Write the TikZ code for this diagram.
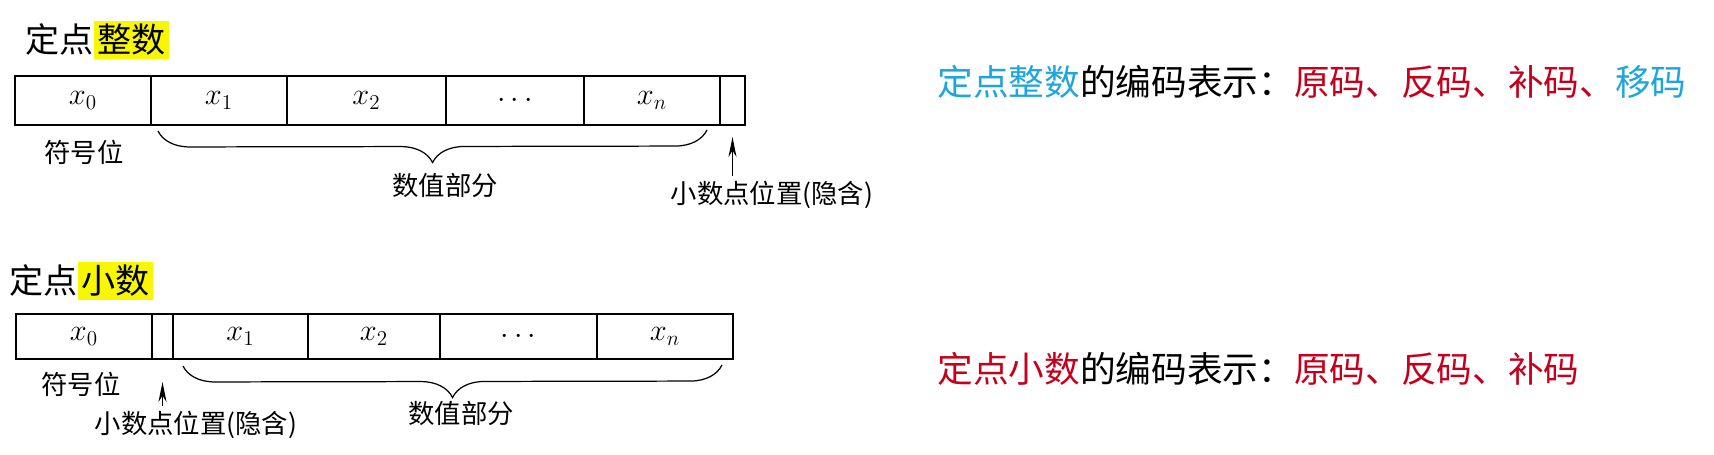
\documentclass[tikz,border=0pt]{standalone}
\usepackage{fontspec}
\usepackage{xcolor}
\usepackage{tikz}
\usetikzlibrary{arrows.meta,calc,positioning,decorations.pathreplacing}
\newfontfamily\cjk{Noto Sans CJK SC}
\definecolor{vurguSari}{HTML}{F9F700}
\definecolor{kodKirmizi}{HTML}{C4001C}
\definecolor{kodMavi}{HTML}{1FA5DD}
\newcommand{\vurgu}[1]{{\setlength{\fboxsep}{2pt}\colorbox{vurguSari}{#1}}}

\begin{document}
\begin{tikzpicture}[
  cell/.style={draw,line width=0.9pt,inner sep=0pt,outer sep=0pt,font=\fontsize{17}{20}\selectfont},
  lbl/.style={font=\cjk\fontsize{15}{18}\selectfont,inner sep=1pt},
  baslik/.style={font=\cjk\fontsize{19.4}{23}\selectfont,inner sep=0pt,anchor=west},
  kod/.style={font=\cjk\fontsize{20.3}{24}\selectfont,inner sep=0pt,anchor=west},
  parantez/.style={decorate,decoration={brace,mirror,amplitude=0.64cm},line width=0.7pt},
  ptr/.style={-{Stealth[length=4mm,width=1.6mm]},line width=0.7pt}]
\useasboundingbox (0,0) rectangle (34.28,-9.08);
\begin{scope}
\node[baslik] (titleA) at (0.50,-0.80) {定点\vurgu{整数}};
\node[cell,minimum height=0.98cm,minimum width=2.72cm,anchor=north west] (a0) at (0.30,-1.52) {$x_0$};
\node[cell,minimum height=0.98cm,minimum width=2.72cm,right=0pt of a0] (a1) {$x_1$};
\node[cell,minimum height=0.98cm,minimum width=3.18cm,right=0pt of a1] (a2) {$x_2$};
\node[cell,minimum height=0.98cm,minimum width=2.76cm,right=0pt of a2] (a3) {$\cdot$\,$\cdot$\,$\cdot$};
\node[cell,minimum height=0.98cm,minimum width=2.72cm,right=0pt of a3] (an) {$x_n$};
\node[cell,minimum height=0.98cm,minimum width=0.50cm,right=0pt of an] (ap) {};
\node[lbl] (signA) at (1.68,-3.04) {符号位};
\draw[parantez] ($(a1.south west)+(0.14,-0.12)$) -- ($(an.south east)+(-0.26,-0.10)$);
\node[lbl] (valA) at (8.90,-3.70) {数值部分};
\node[lbl] (dotA) at (15.44,-3.90) {小数点位置(隐含)};
\draw[ptr,shorten >=0.24cm] ($(dotA.north -| ap.south)+(0,0.06)$) -- (ap.south);
\node[kod] (codeA) at (18.74,-1.64) {\textcolor{kodMavi}{定点整数}的编码表示：\textcolor{kodKirmizi}{原码、反码、补码、}\textcolor{kodMavi}{移码}};
\end{scope}
\begin{scope}
\node[baslik] (titleB) at (0.18,-5.62) {定点\vurgu{小数}};
\node[cell,minimum height=0.90cm,minimum width=2.72cm,anchor=north west] (b0) at (0.32,-6.28) {$x_0$};
\node[cell,minimum height=0.90cm,minimum width=0.42cm,right=0pt of b0] (bp) {};
\node[cell,minimum height=0.90cm,minimum width=2.70cm,right=0pt of bp] (b1) {$x_1$};
\node[cell,minimum height=0.90cm,minimum width=2.64cm,right=0pt of b1] (b2) {$x_2$};
\node[cell,minimum height=0.90cm,minimum width=3.14cm,right=0pt of b2] (b3) {$\cdot$\,$\cdot$\,$\cdot$};
\node[cell,minimum height=0.90cm,minimum width=2.72cm,right=0pt of b3] (bn) {$x_n$};
\node[lbl] (signB) at (1.62,-7.68) {符号位};
\draw[parantez] ($(b1.south west)+(0.20,-0.14)$) -- ($(bn.south east)+(-0.22,-0.12)$);
\node[lbl] (valB) at (9.22,-8.26) {数值部分};
\node[lbl] (dotB) at (3.92,-8.50) {小数点位置(隐含)};
\draw[ptr,shorten >=0.46cm] ($(dotB.north -| bp.south)+(0,0.06)$) -- (bp.south);
\node[kod] (codeB) at (18.74,-7.38) {\textcolor{kodKirmizi}{定点小数}的编码表示：\textcolor{kodKirmizi}{原码、反码、补码}};
\end{scope}
\end{tikzpicture}
\end{document}
